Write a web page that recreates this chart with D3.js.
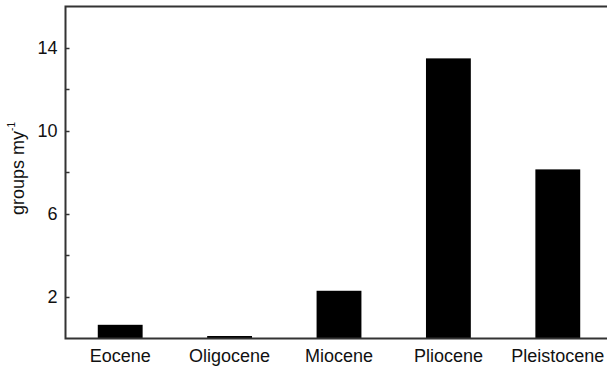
<!DOCTYPE html>
<html>
<head>
<meta charset="utf-8">
<script src="https://cdn.jsdelivr.net/npm/d3@7"></script>
<style>
  html, body { margin: 0; padding: 0; background: #fff; }
  svg { display: block; }
  text { font-family: "Liberation Sans", Arial, sans-serif; fill: #111; }
</style>
</head>
<body>
<svg id="chart" width="607" height="368"></svg>
<script>
// Diversification rate (groups per million years) by epoch
const epochs = ["Eocene", "Oligocene", "Miocene", "Pliocene", "Pleistocene"];
const rates = [0.66, 0.12, 2.3, 13.5, 8.15];
const majorTicks = [2, 6, 10, 14];
const minorTicks = [4, 8, 12];

const svg = d3.select("#chart");
const plotLeft = 65.5, plotTop = 6.5, plotBottom = 338.5, plotRight = 612.5;

const x = d3.scaleBand().domain(epochs).range([plotLeft, plotRight]).padding(0);
const barW = x.bandwidth() * 0.41;
const y = d3.scaleLinear().domain([0, 16]).range([plotBottom, plotTop]);

// bars
svg.append("g").selectAll("rect")
  .data(epochs.map((e, i) => ({ e, v: rates[i] })))
  .join("rect")
  .attr("x", d => x(d.e) + x.bandwidth() / 2 - barW / 2)
  .attr("width", barW)
  .attr("y", d => y(d.v))
  .attr("height", d => y(0) - y(d.v))
  .attr("fill", "#000");

// left axis with inward ticks
const yAxis = d3.axisLeft(y).tickValues(majorTicks).tickSize(-4).tickPadding(8)
  .tickFormat(d3.format("d"));
const gy = svg.append("g").attr("transform", `translate(${plotLeft},0)`).call(yAxis);
gy.select(".domain").remove();
gy.selectAll(".tick line").attr("stroke", "#333").attr("stroke-width", 1.5);
gy.selectAll(".tick text").style("font-size", "18px").attr("fill", "#111");
svg.append("g").selectAll("line").data(minorTicks).join("line")
  .attr("x1", plotLeft).attr("x2", plotLeft + 4)
  .attr("y1", d => y(d)).attr("y2", d => y(d))
  .attr("stroke", "#333").attr("stroke-width", 1.5);

// bottom axis labels
const xAxis = d3.axisBottom(x).tickSize(0).tickPadding(11);
const gx = svg.append("g").attr("transform", `translate(0,${plotBottom})`).call(xAxis);
gx.select(".domain").remove();
gx.selectAll(".tick text").style("font-size", "18px").attr("fill", "#111");

// frame: left, top and bottom edges
const frame = d3.path();
frame.moveTo(607, plotTop); frame.lineTo(plotLeft, plotTop);
frame.lineTo(plotLeft, plotBottom); frame.lineTo(607, plotBottom);
svg.append("path").attr("d", frame.toString()).attr("fill", "none")
  .attr("stroke", "#333").attr("stroke-width", 2);

// y-axis title
const yt = svg.append("text")
  .attr("transform", `translate(24,${(plotTop + plotBottom) / 2 - 4}) rotate(-90)`)
  .attr("text-anchor", "middle")
  .style("font-size", "18px");
yt.append("tspan").text("groups my");
yt.append("tspan").attr("dy", -9).style("font-size", "10px").text("-1");
</script>
</body>
</html>
